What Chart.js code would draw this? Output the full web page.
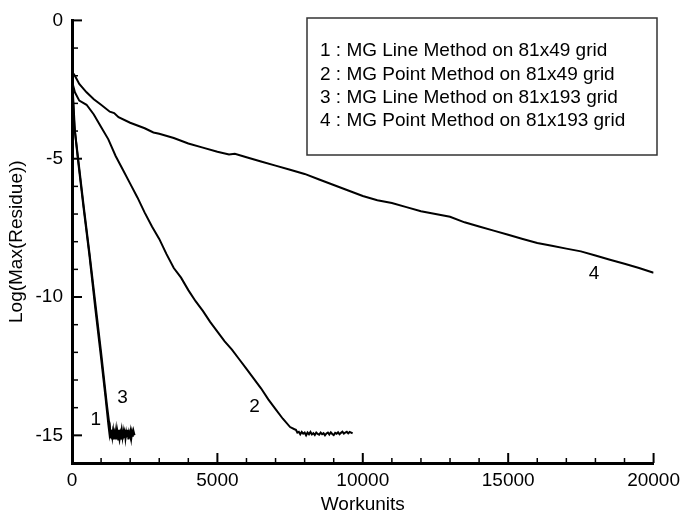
<!DOCTYPE html>
<html>
<head>
<meta charset="utf-8">
<script src="https://cdn.jsdelivr.net/npm/chart.js@4.4.1/dist/chart.umd.min.js"></script>
<style>
  body { margin: 0; background: #fff; }
  #wrap { width: 686px; height: 517px; }
</style>
</head>
<body>
<div id="wrap"><canvas id="chart" width="686" height="517"></canvas></div>
<script>
// axis ticks
const xTicks = [0, 5000, 10000, 15000, 20000];
const xMinor = [1000, 2000, 3000, 4000, 6000, 7000, 8000, 9000, 11000, 12000, 13000, 14000, 16000, 17000, 18000, 19000];
const yTicks = [0, -5, -10, -15];
const yMinor = [-1, -2, -3, -4, -6, -7, -8, -9, -11, -12, -13, -14];

const legendLines = [
  '1 : MG Line Method on 81x49 grid',
  '2 : MG Point Method on 81x49 grid',
  '3 : MG Line Method on 81x193 grid',
  '4 : MG Point Method on 81x193 grid'
];

// curve 1 : MG line, 81x49
const x1 = [0, 30, 80, 200, 400, 600, 800, 1000, 1150, 1250, 1290,
  1310, 1335, 1360, 1385, 1410, 1435, 1460, 1485, 1510, 1535, 1560, 1585, 1610, 1635, 1660, 1685, 1710, 1735, 1760, 1785, 1810, 1835, 1850];
const y1 = [-1.5, -2.8, -3.8, -5.0, -6.8, -8.5, -10.4, -12.2, -13.6, -14.6, -14.95,
  -14.8, -15.1, -14.85, -15.15, -14.9, -15.05, -14.8, -15.1, -14.9, -15.15, -14.85, -15.0, -14.8, -15.1, -14.95, -15.15, -14.85, -15.05, -14.8, -15.1, -14.9, -15.05, -14.95];

// curve 2 : MG point, 81x49
const x2 = [0, 100, 250, 500, 750, 1000, 1250, 1500, 1750, 2000, 2250, 2500, 2750, 3000, 3250, 3500, 3750, 4000, 4250, 4500, 4750, 5000, 5250, 5500, 5750, 6000, 6250, 6500, 6750, 7000, 7250, 7500, 7650,
  7700, 7750, 7800, 7850, 7900, 7950, 8000, 8050, 8100, 8150, 8200, 8250, 8300, 8350, 8400, 8450, 8500, 8550, 8600, 8650,
  8700, 8750, 8800, 8850, 8900, 8950, 9000, 9050, 9100, 9150, 9200, 9250, 9300, 9350, 9400, 9450, 9500, 9550, 9600, 9650];
const y2 = [-2.2, -2.6, -2.9, -3.05, -3.4, -3.85, -4.3, -4.9, -5.4, -5.9, -6.4, -6.95, -7.45, -7.9, -8.45, -8.95, -9.3, -9.75, -10.15, -10.5, -10.9, -11.25, -11.6, -11.9, -12.25, -12.6, -12.95, -13.3, -13.7, -14.05, -14.4, -14.7, -14.78,
  -14.8, -14.9, -14.87, -14.96, -14.88, -14.94, -14.9, -15.0, -14.9, -14.96, -14.88, -14.97, -14.92, -14.99, -14.9, -14.95, -14.98, -14.9, -14.96, -14.92,
  -15.0, -14.93, -14.9, -14.97, -14.89, -14.95, -14.99, -14.91, -14.94, -14.89, -14.96, -14.91, -14.87, -14.94, -14.9, -14.87, -14.93, -14.88, -14.9, -14.93];

// curve 3 : MG line, 81x193
const x3 = [0, 30, 100, 200, 400, 600, 800, 1000, 1200, 1320,
  1340, 1365, 1390, 1415, 1440, 1465, 1490, 1515, 1540, 1565, 1590, 1615, 1640, 1665, 1690, 1715, 1740, 1765, 1790, 1815, 1840, 1865, 1890, 1915, 1940, 1965, 1990, 2015, 2040, 2065, 2090, 2115, 2150];
const y3 = [-1.4, -2.6, -4.0, -4.9, -6.7, -8.4, -10.2, -12.0, -13.9, -14.9,
  -15.1, -14.8, -15.05, -14.85, -15.15, -14.9, -15.0, -14.8, -15.1, -14.95, -15.15, -14.85, -15.05, -14.8, -15.1, -14.9, -15.15, -14.85, -15.0, -14.8, -15.1, -14.9, -15.05, -14.8, -15.15, -14.9, -15.0, -14.85, -15.1, -14.9, -15.05, -14.85, -15.0];

// curve 4 : MG point, 81x193
const x4 = [0, 100, 250, 500, 750, 1000, 1300, 1450, 1600, 2000, 2500, 2800, 3000, 3500, 4000, 4500, 5000, 5400, 5600, 6000, 6500, 7000, 7500, 8000, 8500, 9000, 9500, 10000, 10500,
  11000, 11500, 12000, 12500, 13000, 13500, 14000, 14500, 15000, 15500, 16000, 16500, 17000, 17500, 18000, 18500, 19000, 19500, 20000];
const y4 = [-1.85, -2.0, -2.3, -2.6, -2.85, -3.05, -3.3, -3.35, -3.5, -3.7, -3.9, -4.05, -4.1, -4.25, -4.45, -4.6, -4.75, -4.85, -4.82, -4.95, -5.1, -5.25, -5.4, -5.55, -5.75, -5.95, -6.15, -6.35, -6.5,
  -6.6, -6.75, -6.9, -7.0, -7.1, -7.3, -7.45, -7.6, -7.75, -7.9, -8.05, -8.15, -8.25, -8.35, -8.5, -8.65, -8.8, -8.95, -9.12];

// curve tags placed next to each curve, in data coordinates
const tagText = ['1', '2', '3', '4'];
const tagX = [820, 6280, 1740, 17950];
const tagY = [-14.45, -13.97, -13.64, -9.16];

const FONT = '"Liberation Sans", Arial, Helvetica, sans-serif';
Chart.defaults.font.family = FONT;
Chart.defaults.font.size = 19;
Chart.defaults.color = '#000';

const pts = (xs, ys) => xs.map((x, i) => ({ x: x, y: ys[i] }));
const line = (xs, ys) => ({
  data: pts(xs, ys),
  borderColor: '#000',
  borderWidth: 2,
  pointRadius: 0,
  tension: 0,
  fill: false
});

const decor = {
  id: 'decor',
  afterDraw(chart) {
    const ctx = chart.ctx;
    const xs = chart.scales.x, ys = chart.scales.y;
    const a = chart.chartArea;
    ctx.save();
    ctx.strokeStyle = '#000';
    // inward tick marks
    ctx.lineWidth = 2;
    xTicks.forEach(v => {
      const p = xs.getPixelForValue(v);
      ctx.beginPath(); ctx.moveTo(p, a.bottom); ctx.lineTo(p, a.bottom - 10); ctx.stroke();
    });
    yTicks.forEach(v => {
      const p = ys.getPixelForValue(v);
      ctx.beginPath(); ctx.moveTo(a.left, p); ctx.lineTo(a.left + 10, p); ctx.stroke();
    });
    ctx.lineWidth = 1.5;
    xMinor.forEach(v => {
      const p = xs.getPixelForValue(v);
      ctx.beginPath(); ctx.moveTo(p, a.bottom); ctx.lineTo(p, a.bottom - 5); ctx.stroke();
    });
    yMinor.forEach(v => {
      const p = ys.getPixelForValue(v);
      ctx.beginPath(); ctx.moveTo(a.left, p); ctx.lineTo(a.left + 6, p); ctx.stroke();
    });

    // curve tags
    ctx.fillStyle = '#000';
    ctx.font = '19px ' + FONT;
    ctx.textAlign = 'center';
    ctx.textBaseline = 'middle';
    tagText.forEach((t, i) => {
      ctx.fillText(t, xs.getPixelForValue(tagX[i]), ys.getPixelForValue(tagY[i]));
    });

    // legend box
    ctx.fillStyle = '#fff';
    ctx.fillRect(307, 18, 350, 137);
    ctx.strokeStyle = '#333';
    ctx.lineWidth = 1.5;
    ctx.strokeRect(307, 18, 350, 137);
    ctx.fillStyle = '#000';
    ctx.textAlign = 'left';
    legendLines.forEach((t, i) => ctx.fillText(t, 320, 51 + i * 23.4));
    ctx.restore();
  }
};

new Chart(document.getElementById('chart'), {
  type: 'line',
  data: {
    datasets: [line(x1, y1), line(x2, y2), line(x3, y3), line(x4, y4)]
  },
  options: {
    responsive: false,
    animation: false,
    layout: { padding: { top: 15, right: 28, left: 0, bottom: 0 } },
    plugins: { legend: { display: false }, tooltip: { enabled: false } },
    scales: {
      x: {
        type: 'linear',
        min: 0, max: 20000,
        afterBuildTicks: s => { s.ticks = xTicks.map(v => ({ value: v })); },
        afterFit: s => { s.height = 54; },
        grid: { display: false, drawTicks: false },
        border: { display: true, width: 3, color: '#000' },
        ticks: { padding: 6, maxRotation: 0, callback: v => String(v) },
        title: { display: true, text: 'Workunits', padding: { top: 0, bottom: 1 } }
      },
      y: {
        type: 'linear',
        min: -16, max: 0,
        afterBuildTicks: s => { s.ticks = yTicks.map(v => ({ value: v })); },
        afterFit: s => { s.width = 72; },
        grid: { display: false, drawTicks: false },
        border: { display: true, width: 3, color: '#000' },
        ticks: { padding: 9, callback: v => String(v) },
        title: { display: true, text: 'Log(Max(Residue))', padding: { top: 5, bottom: 0 } }
      }
    }
  },
  plugins: [decor]
});
</script>
</body>
</html>
